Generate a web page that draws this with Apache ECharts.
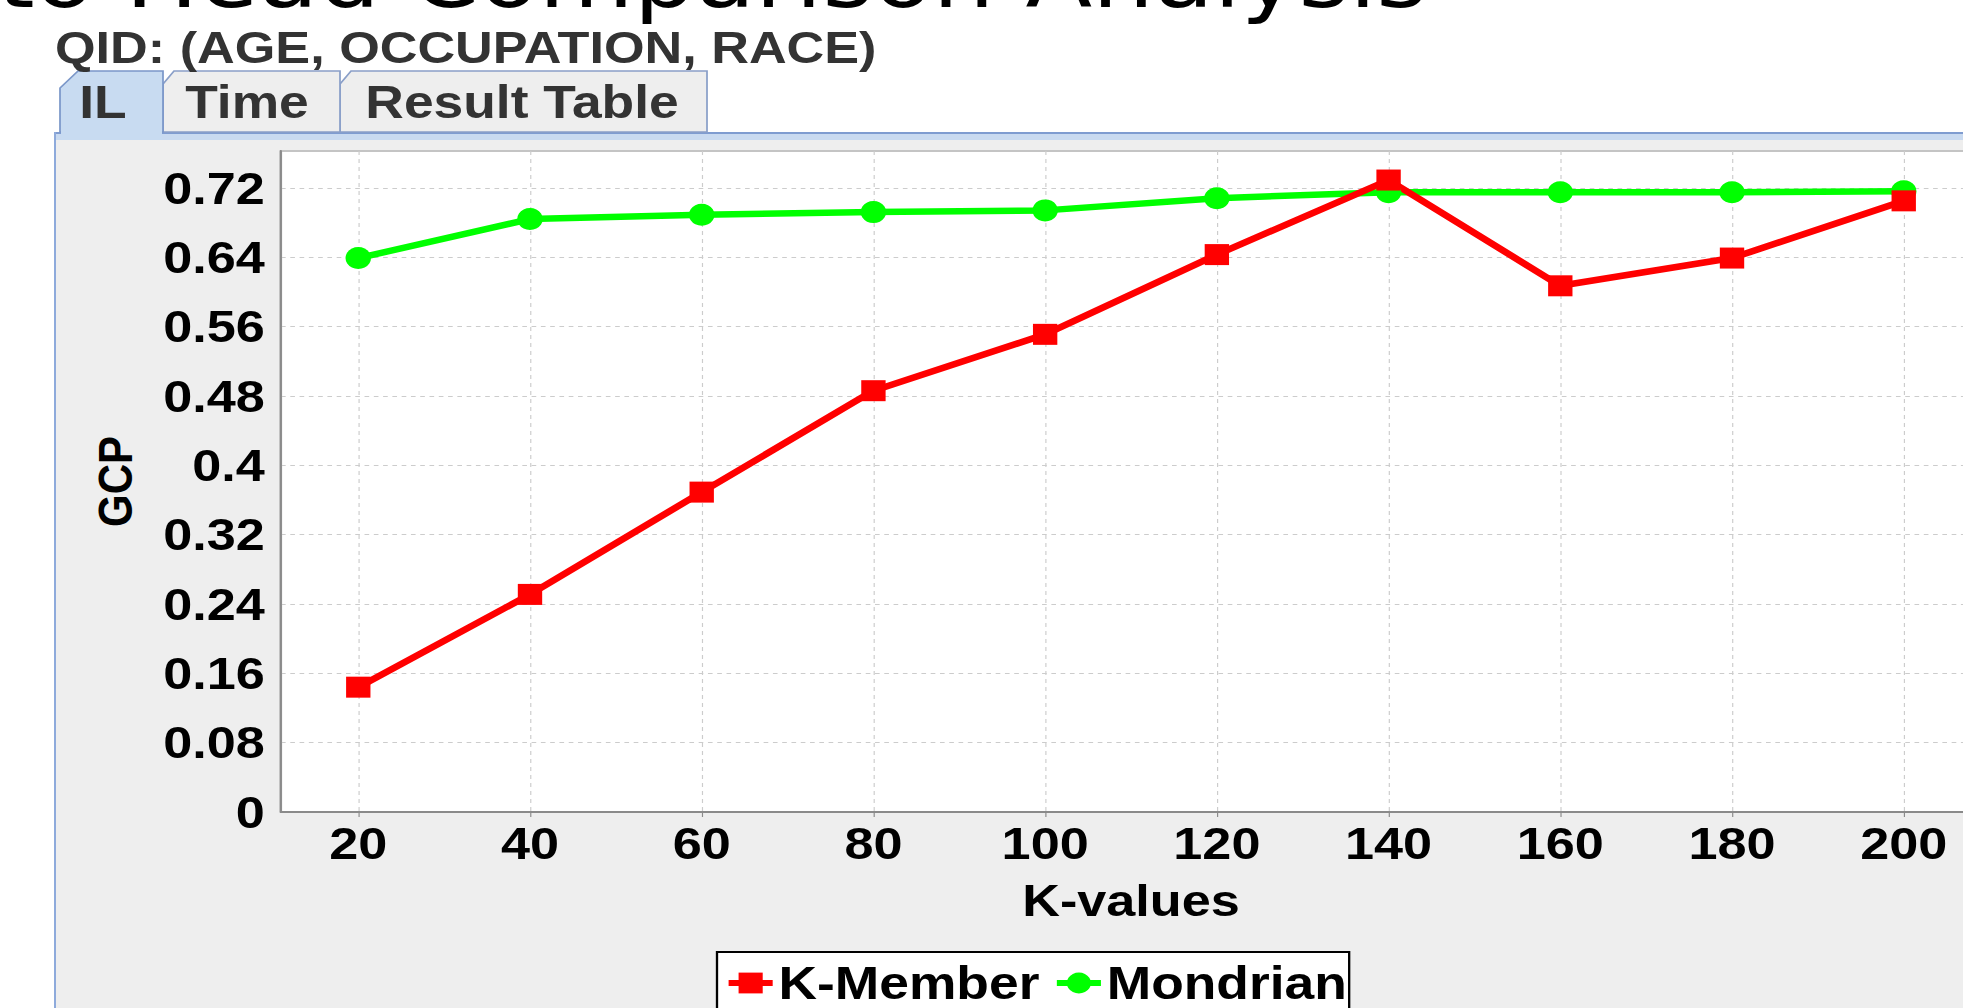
<!DOCTYPE html>
<html>
<head>
<meta charset="utf-8">
<title>QID: (AGE, OCCUPATION, RACE) - IL</title>
<script src="https://cdn.jsdelivr.net/npm/echarts@6/dist/echarts.min.js"></script>
<style>
  html, body { margin: 0; padding: 0; background: #fff; overflow: hidden; }
  #stage { width: 1963px; height: 1008px; overflow: hidden; position: relative; }
  /* the source screenshot is stretched sideways, so draw narrow and stretch */
  #chart { width: 1692px; height: 1008px; transform-origin: 0 0; transform: scaleX(1.16017); }
</style>
</head>
<body>
<div id="stage"><div id="chart"></div></div>
<script>
const kValues = [20, 40, 60, 80, 100, 120, 140, 160, 180, 200];
const kMember = [0.144, 0.251, 0.369, 0.486, 0.551, 0.643, 0.729, 0.607, 0.639, 0.705];
const mondrian = [0.639, 0.684, 0.689, 0.692, 0.694, 0.708, 0.715, 0.715, 0.715, 0.716];
const gcpTicks = [0, 0.08, 0.16, 0.24, 0.32, 0.4, 0.48, 0.56, 0.64, 0.72];
const tabNames = ['IL', 'Time', 'Result Table'];

const SX = 1963 / 1692;
const fx = x => x / SX;   // screenshot x -> chart x

const FONT = '"Liberation Sans", Arial, sans-serif';
const bold = size => ({ fontFamily: FONT, fontWeight: 'bold', fontSize: size, color: '#000' });

const pair = (xs, ys) => xs.map((x, i) => [x, ys[i]]);

// tab strip + panel (Swing look)
const tabShapes = [
  { pts: [[60, 132], [60, 88], [78, 71], [163, 71], [163, 132]], fill: '#c8dbf1', stroke: '#7b97c9', cx: 103 },
  { pts: [[163, 132], [163, 84], [174, 71], [340, 71], [340, 132]], fill: '#eeeeee', stroke: '#8a9fc8', cx: 247 },
  { pts: [[340, 132], [340, 84], [351, 71], [707, 71], [707, 132]], fill: '#eeeeee', stroke: '#8a9fc8', cx: 522 }
];

const chrome = [
  { type: 'rect', z: -10, shape: { x: fx(55), y: 132, width: 2000, height: 900 }, style: { fill: '#eeeeee' } },
  { type: 'rect', z: -9, shape: { x: fx(55), y: 132, width: 2000, height: 2 }, style: { fill: '#7f9cd0' } },
  { type: 'rect', z: -9, shape: { x: fx(56), y: 134, width: 2000, height: 6 }, style: { fill: '#c9daf0' } },
  { type: 'rect', z: -9, shape: { x: fx(54), y: 132, width: fx(2), height: 900 }, style: { fill: '#8eaadb' } },
  {
    type: 'text', z: 5, x: fx(1427), y: -22,
    style: { text: 'Head to Head Comparison Analysis', fontFamily: '"DejaVu Sans", sans-serif', fontSize: 84, fill: '#000', align: 'right', verticalAlign: 'middle' }
  },
  {
    type: 'text', z: 5, x: fx(55), y: 47,
    style: { text: 'QID: (AGE, OCCUPATION, RACE)', fontFamily: FONT, fontWeight: 'bold', fontSize: 45, fill: '#333', align: 'left', verticalAlign: 'middle' }
  }
];

tabShapes.slice().reverse().forEach((t, i) => {
  const name = tabNames[tabShapes.length - 1 - i];
  chrome.push({
    type: 'polygon', z: -8,
    shape: { points: t.pts.map(p => [fx(p[0]), p[1]]) },
    style: { fill: t.fill, stroke: t.stroke, lineWidth: 1.5 }
  });
  chrome.push({
    type: 'text', z: 5, x: fx(t.cx), y: 102,
    style: { text: name, fontFamily: FONT, fontWeight: 'bold', fontSize: 46, fill: '#333', align: 'center', verticalAlign: 'middle' }
  });
});
// selected tab joins the panel band
chrome.push({ type: 'rect', z: -7, shape: { x: fx(61), y: 131, width: fx(101), height: 9 }, style: { fill: '#c8dbf1' } });

const gridLine = { show: true, lineStyle: { color: '#cccccc', width: 1, type: [4, 4] } };

const chart = echarts.init(document.getElementById('chart'), null, { renderer: 'svg' });
chart.setOption({
  animation: false,
  backgroundColor: '#fff',
  graphic: chrome,
  grid: {
    left: fx(281), top: 151, width: fx(1700), height: 661,
    show: true, backgroundColor: '#fff', borderColor: '#c4c4c4', borderWidth: 2,
    outerBoundsMode: 'none', containLabel: false
  },
  legend: {
    data: ['K-Member', 'Mondrian'],
    left: fx(717), top: 952,
    orient: 'horizontal',
    backgroundColor: '#fff', borderColor: '#000', borderWidth: 2,
    padding: [8, 2, 20, 7],
    itemGap: 12, itemWidth: 38, itemHeight: 26,
    lineStyle: { width: 6 },
    textStyle: bold(46)
  },
  xAxis: {
    type: 'value', min: 11, max: 209,
    name: 'K-values', nameLocation: 'middle', nameGap: 66,
    nameTextStyle: bold(45),
    axisLine: { show: true, lineStyle: { color: '#8a8a8a', width: 2 } },
    axisTick: { show: true, customValues: kValues, length: 5, lineStyle: { color: '#8a8a8a', width: 1 } },
    axisLabel: { customValues: kValues, margin: 9, ...bold(45) },
    splitLine: gridLine
  },
  yAxis: {
    type: 'value', min: 0, max: 0.7625,
    name: 'GCP', nameLocation: 'middle', nameRotate: 90, nameGap: 122,
    nameTextStyle: bold(42),
    axisLine: { show: true, lineStyle: { color: '#8a8a8a', width: 2 } },
    axisTick: { show: false, customValues: gcpTicks },
    axisLabel: { customValues: gcpTicks, margin: 14, ...bold(45) },
    splitLine: gridLine
  },
  series: [
    {
      name: 'Mondrian', type: 'line', data: pair(kValues, mondrian),
      symbol: 'circle', symbolSize: 22,
      itemStyle: { color: '#00ff00' }, lineStyle: { color: '#00ff00', width: 6.5 }
    },
    {
      name: 'K-Member', type: 'line', data: pair(kValues, kMember),
      symbol: 'rect', symbolSize: 21,
      itemStyle: { color: '#ff0000' }, lineStyle: { color: '#ff0000', width: 6.5 }
    }
  ]
});
</script>
</body>
</html>
